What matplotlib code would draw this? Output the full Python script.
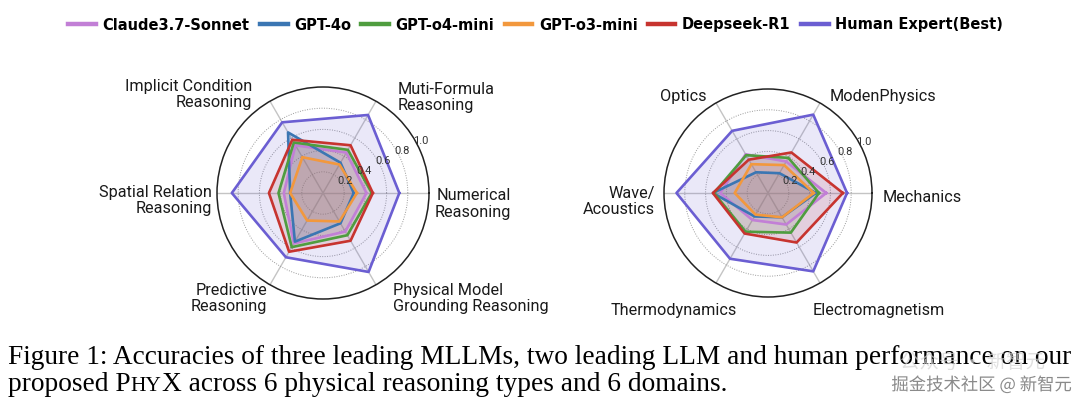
import numpy as np
import matplotlib
matplotlib.use("Agg")
import matplotlib.pyplot as plt
import matplotlib.patheffects as pe
from matplotlib.lines import Line2D

# ---- data ----
models = ["Claude3.7-Sonnet", "GPT-4o", "GPT-o4-mini", "GPT-o3-mini", "Deepseek-R1", "Human Expert(Best)"]
colors = ["#c27fd6", "#3b76b3", "#4f9d3f", "#f2983d", "#c7342f", "#6b5ed2"]

reasoning_types = ["Numerical\nReasoning", "Muti-Formula\nReasoning", "Implicit Condition\nReasoning",
                   "Spatial Relation\nReasoning", "Predictive\nReasoning", "Physical Model\nGrounding Reasoning"]
claude_types = [0.41, 0.44, 0.52, 0.37, 0.55, 0.42]
gpt4o_types = [0.29, 0.33, 0.66, 0.31, 0.53, 0.33]
o4mini_types = [0.46, 0.47, 0.55, 0.42, 0.59, 0.46]
o3mini_types = [0.32, 0.31, 0.39, 0.31, 0.30, 0.31]
r1_types = [0.47, 0.52, 0.58, 0.51, 0.64, 0.52]
human_types = [0.72, 0.85, 0.77, 0.86, 0.70, 0.86]

domains = ["Mechanics", "ModenPhysics", "Optics", "Wave/\nAcoustics", "Thermodynamics", "Electromagnetism"]
claude_domains = [0.56, 0.35, 0.43, 0.46, 0.30, 0.35]
gpt4o_domains = [0.46, 0.22, 0.23, 0.53, 0.26, 0.27]
o4mini_domains = [0.49, 0.39, 0.42, 0.52, 0.43, 0.44]
o3mini_domains = [0.44, 0.31, 0.32, 0.32, 0.24, 0.27]
r1_domains = [0.72, 0.45, 0.37, 0.53, 0.45, 0.55]
human_domains = [0.76, 0.87, 0.69, 0.88, 0.73, 0.87]

rticks = [0.2, 0.4, 0.6, 0.8, 1.0]

type_series = [claude_types, gpt4o_types, o4mini_types, o3mini_types, r1_types, human_types]
domain_series = [claude_domains, gpt4o_domains, o4mini_domains, o3mini_domains, r1_domains, human_domains]

# label anchors: (angle deg, radius, ha, va, multialignment)
type_label_pos = [(-5.6, 1.06, "left", "center", "right"),
                  (46.8, 1.035, "left", "bottom", "left"),
                  (130.5, 1.03, "right", "bottom", "right"),
                  (183.9, 1.05, "right", "center", "right"),
                  (238.1, 1.0, "right", "top", "right"),
                  (-52.1, 1.075, "left", "top", "left")]
domain_label_pos = [(-2.0, 1.106, "left", "center", "left"),
                    (55.1, 1.04, "left", "bottom", "left"),
                    (124.4, 1.04, "right", "bottom", "right"),
                    (184.3, 1.09, "right", "center", "right"),
                    (254.3, 1.10, "right", "top", "right"),
                    (-67.8, 1.14, "left", "top", "left")]

W, H = 1080, 411
fig = plt.figure(figsize=(W / 100, H / 100), dpi=100)


def radar(rect, labels, series, label_pos):
    ax = fig.add_axes(rect, projection="polar")
    angles = np.deg2rad(np.arange(0, 360, 60))
    closed = np.append(angles, angles[0])
    for vals, c in zip(series, colors):
        v = np.append(vals, vals[0])
        ax.fill(closed, v, color=c, alpha=0.14, zorder=2)
        ax.plot(closed, v, color=c, lw=1.9, zorder=3)
    ax.set_ylim(0, 1)
    ax.set_thetagrids(np.degrees(angles), [""] * 6)
    ax.set_rgrids(rticks[:-1], [""] * 4)
    ax.xaxis.grid(True, color="#c4c4c4", lw=1.0, ls="-")
    ax.yaxis.grid(True, color="#9a9a9a", lw=0.7, ls=(0, (1, 1.5)))
    ax.spines["polar"].set_color("#222222")
    ax.spines["polar"].set_linewidth(1.1)
    ax.tick_params(pad=0, length=0)
    for t in rticks:
        ax.text(np.deg2rad(28), t + 0.04, f"{t:.1f}", fontsize=8, color="#333333",
                ha="center", va="center", family="Roboto", zorder=5)
    for lab, (a, r, ha, va, ma) in zip(labels, label_pos):
        ax.text(np.deg2rad(a), r, lab, ha=ha, va=va, multialignment=ma,
                fontsize=11.7, family="Roboto", color="#1a1a1a", linespacing=1.1,
                clip_on=False)
    return ax


radar([217 / W, 1 - 299 / H, 212 / W, 212 / H], reasoning_types, type_series, type_label_pos)
radar([664 / W, 1 - 297 / H, 208 / W, 208 / H], domains, domain_series, domain_label_pos)

# legend
handles = [Line2D([0], [0], color=c, lw=3.2) for c in colors]
fig.legend(handles, models, loc="center", bbox_to_anchor=(0.496, 1 - 25 / H), ncol=6,
           frameon=False, prop={"family": "DejaVu Sans", "weight": "bold", "size": 10.5},
           handlelength=1.9, handletextpad=0.45, columnspacing=0.7)

# caption
serif = "Liberation Serif"
fs = 19.7
fig.text(8 / W, 1 - 364 / H, "Figure 1: Accuracies of three leading MLLMs, two leading LLM and human performance on our",
         family=serif, fontsize=fs, ha="left", va="baseline")

fig.canvas.draw()
renderer = fig.canvas.get_renderer()
x = 8
pieces = [("proposed P", fs), ("HY", fs * 0.78), ("X across 6 physical reasoning types and 6 domains.", fs)]
for txt, size in pieces:
    t = fig.text(x / W, 1 - 391 / H, txt, family=serif, fontsize=size, ha="left", va="baseline")
    x += t.get_window_extent(renderer).width

# watermark
cjk = ["Noto Sans CJK SC", "DejaVu Sans"]
fig.text(1045 / W, 1 - 362 / H, "公众号 · 新智元", family=cjk, fontsize=14, color="#d4d4d4",
         ha="right", va="center", alpha=0.7, zorder=5)
fig.text(1072 / W, 1 - 385 / H, "掘金技术社区 @ 新智元", family=cjk, fontsize=12.5, color="#8a8a8a",
         ha="right", va="center", zorder=6,
         path_effects=[pe.withStroke(linewidth=2.5, foreground="white")])

fig.savefig("out.png", dpi=100)
